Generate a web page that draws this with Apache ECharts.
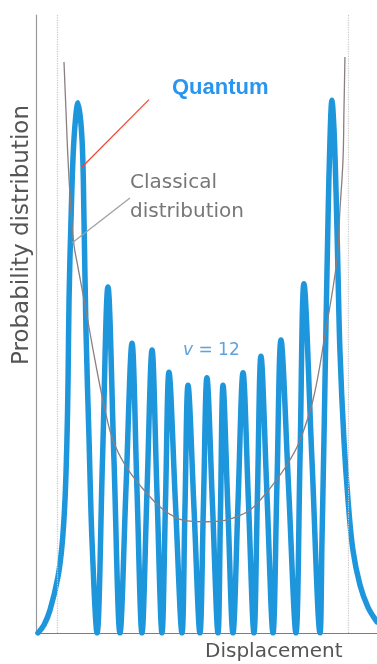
<!DOCTYPE html>
<html>
<head>
<meta charset="utf-8">
<script src="https://cdn.jsdelivr.net/npm/echarts@6/dist/echarts.min.js"></script>
<style>
html,body{margin:0;padding:0;background:#fff;}
#c{width:377px;height:664px;}
</style>
</head>
<body>
<div id="c"></div>
<script>
// Displacement in units of the classical turning point; probability in % of axis height
const quantumX = [-1.186,-1.143,-1.100,-1.043,-1.014,-0.993,-0.979,-0.971,-0.964,-0.950,-0.929,-0.900,-0.871,-0.857,-0.843,-0.821,-0.800,-0.764,
  -0.725,-0.686,-0.643,-0.600,-0.557,-0.514,-0.479,-0.443,-0.407,-0.371,-0.336,-0.300,-0.275,-0.250,-0.204,-0.157,
  -0.136,-0.114,-0.071,-0.029,-0.004,0.021,0.061,0.100,0.118,0.136,0.171,0.207,0.243,0.279,0.318,0.357,
  0.382,0.407,0.450,0.493,0.521,0.550,0.604,0.657,0.686,0.714,0.771,0.829,
  0.843,0.857,0.871,0.886,0.900,0.914,0.929,0.943,0.957,0.971,1.000,1.029,1.064,1.114,1.171,1.236];
const quantumY = [0,1.3,3.7,9.1,14.2,21.5,31.2,40.9,53.9,66.8,79.8,85.8,79.8,66.8,49.0,31.2,15.0,0,
  28.0,56.0,28.0,0,23.5,46.9,23.5,0,22.9,45.8,22.9,0,21.1,42.2,21.1,0,
  20.0,40.1,20.0,0,20.6,41.3,20.6,0,20.0,40.1,20.0,0,21.0,42.1,21.0,0,
  22.4,44.8,22.4,0,23.7,47.4,23.7,0,28.2,56.5,28.2,0,
  15.0,31.2,49.0,66.8,79.8,86.2,81.4,71.7,58.7,45.8,31.2,21.5,13.4,7.8,4.2,1.8];
const classicalX = [-1.000,-0.986,-0.971,-0.950,-0.929,-0.907,-0.850,-0.779,-0.707,-0.650,-0.564,-0.457,-0.314,-0.193,-0.100,0.007,
  0.114,0.207,0.329,0.421,0.529,0.614,0.686,0.779,0.864,0.950,0.971,0.993,1.000,1.007];
const classicalY = [92.4,84.6,76.5,68.4,62.8,60.0,53.1,44.2,36.1,31.2,27.2,23.9,20.4,18.6,18.1,18.0,
  18.1,18.6,19.9,22.0,25.1,28.0,31.2,37.7,48.2,60.4,68.4,76.5,84.6,93.2];
const turningPoints = [-1.05, 1.03];
const quantumLeaderX = [-0.393, -0.871];
const quantumLeaderY = [86.3, 75.4];
const classicalLeaderX = [-0.529, -0.943];
const classicalLeaderY = [70.4, 63.1];
const stateLabel = 12;

const zip = (a, b) => a.map((v, i) => [v, b[i]]);

const chart = echarts.init(document.getElementById('c'), null, {renderer: 'canvas'});
chart.setOption({
  animation: false,
  backgroundColor: '#ffffff',
  grid: {left: 36, top: 15, width: 341, height: 618, containLabel: false},
  xAxis: {
    type: 'value', min: -1.2, max: 1.236,
    axisLine: {show: true, onZero: false, lineStyle: {color: '#7d7d7d', width: 1.2}},
    axisTick: {show: false}, axisLabel: {show: false}, splitLine: {show: false}
  },
  yAxis: {
    type: 'value', min: 0, max: 100,
    axisLine: {show: true, onZero: false, lineStyle: {color: '#999999', width: 1.2}},
    axisTick: {show: false}, axisLabel: {show: false}, splitLine: {show: false}
  },
  series: [
    {
      type: 'line', data: [], silent: true,
      markLine: {
        silent: true, symbol: 'none', label: {show: false},
        lineStyle: {color: '#c8c8c8', type: 'dotted', width: 1.2},
        data: turningPoints.map(v => ({xAxis: v}))
      }
    },
    {
      name: 'Quantum', type: 'line', data: zip(quantumX, quantumY),
      smooth: 0.35, showSymbol: false,
      lineStyle: {color: '#1e96dc', width: 5.5, join: 'round', cap: 'round'},
      z: 3
    },
    {
      name: 'Classical', type: 'line', data: zip(classicalX, classicalY),
      smooth: 0.4, showSymbol: false,
      lineStyle: {color: '#8a7e80', width: 1.3},
      z: 4
    },
    {
      type: 'line', data: zip(quantumLeaderX, quantumLeaderY), showSymbol: false,
      lineStyle: {color: '#f0482a', width: 1.2}, z: 5
    },
    {
      type: 'line', data: zip(classicalLeaderX, classicalLeaderY), showSymbol: false,
      lineStyle: {color: '#a0a0a0', width: 1.3}, z: 5
    }
  ],
  graphic: [
    {type: 'text', x: 172, y: 88, style: {text: 'Quantum', fill: '#2a95ee',
      font: 'bold 22px "Liberation Sans", Arial, sans-serif', textVerticalAlign: 'middle'}},
    {type: 'text', x: 130, y: 183, style: {text: 'Classical', fill: '#777777',
      font: '20px "DejaVu Sans", sans-serif', textVerticalAlign: 'middle'}},
    {type: 'text', x: 130, y: 212, style: {text: 'distribution', fill: '#777777',
      font: '20px "DejaVu Sans", sans-serif', textVerticalAlign: 'middle'}},
    {type: 'text', x: 183, y: 351, style: {
      text: '{i|v} = ' + stateLabel, fill: '#5fa3dc', font: '17px "DejaVu Sans", sans-serif',
      textVerticalAlign: 'middle',
      rich: {i: {fontStyle: 'italic', fontSize: 17, fontFamily: 'DejaVu Sans', fill: '#5fa3dc'}}}},
    {type: 'text', x: 205, y: 652, style: {text: 'Displacement', fill: '#555555',
      font: '20px "DejaVu Sans", sans-serif', textVerticalAlign: 'middle'}},
    {type: 'text', x: 22, y: 235, rotation: Math.PI / 2, style: {text: 'Probability distribution', fill: '#555555',
      font: '23px "DejaVu Sans", sans-serif', textAlign: 'center', textVerticalAlign: 'middle'}}
  ]
});
</script>
</body>
</html>
